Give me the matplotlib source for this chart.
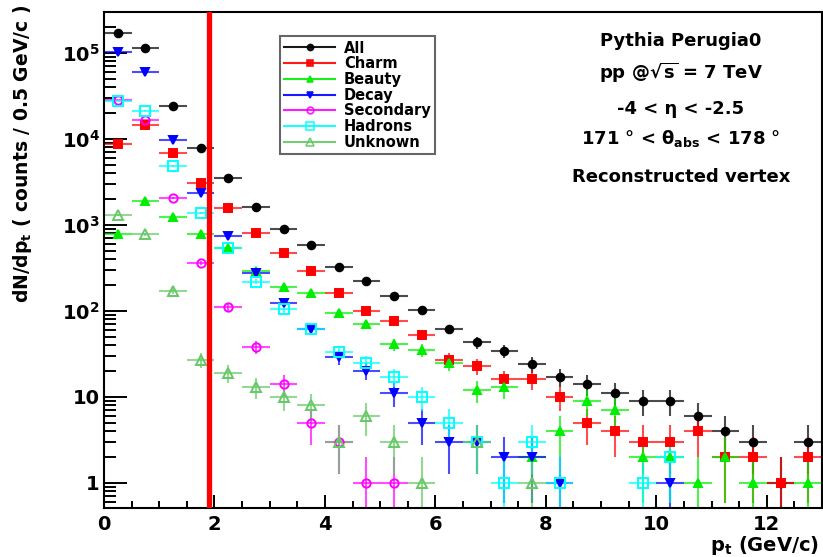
import numpy as np
import matplotlib
matplotlib.use("Agg")
import matplotlib.pyplot as plt
from matplotlib.lines import Line2D
from matplotlib.ticker import LogLocator, MultipleLocator, FuncFormatter

plt.rcParams['font.family'] = ['DejaVu Sans']
plt.rcParams['font.weight'] = 'bold'
plt.rcParams['axes.labelweight'] = 'bold'
plt.rcParams['mathtext.fontset'] = 'dejavusans'
plt.rcParams['mathtext.default'] = 'bf'

# bin centres, 0.5 GeV/c bins
pt = np.arange(0.25, 13.0, 0.5)

# counts per bin (0 = empty bin)
all_counts = [1.69e5, 1.13e5, 2.44e4, 7.9e3, 3.55e3, 1.63e3, 906, 585, 325, 223, 148, 103, 61,
              43, 34, 24, 17, 14, 11, 9, 9, 6, 4, 3, 1, 3]
charm = [8.7e3, 1.44e4, 6.8e3, 3.05e3, 1.59e3, 814, 472, 294, 163, 101, 76, 53, 27,
         23, 16, 16, 10, 5, 4, 3, 3, 4, 2, 2, 1, 2]
beauty = [780, 1920, 1250, 786, 536, 292, 192, 161, 94, 70, 41, 35, 25,
          12, 13, 2, 4, 9, 7, 2, 2, 1, 2, 1, 0, 1]
decay = [1.03e5, 5.96e4, 9.6e3, 2.34e3, 751, 274, 123, 61, 29, 20, 11, 5, 3,
         3, 2, 2, 1, 0, 0, 0, 1, 0, 0, 0, 0, 0]
secondary = [2.84e4, 1.66e4, 2.04e3, 365, 110, 38, 14, 5, 3, 1, 1, 0, 0,
             0, 0, 0, 0, 0, 0, 0, 0, 0, 0, 0, 0, 0]
hadrons = [2.77e4, 2.13e4, 4.85e3, 1.39e3, 536, 219, 105, 61, 33, 25, 17, 10, 5,
           3, 1, 3, 1, 0, 0, 1, 2, 0, 0, 0, 0, 0]
unknown = [1320, 780, 171, 27, 19, 13, 10, 8, 3, 6, 3, 1, 0,
           3, 0, 1, 0, 0, 0, 0, 0, 0, 0, 0, 0, 0]

labels = ['All', 'Charm', 'Beauty', 'Decay', 'Secondary', 'Hadrons', 'Unknown']
data = [all_counts, charm, beauty, decay, secondary, hadrons, unknown]
colors = ['black', '#ff0000', '#00ee00', '#0000ff', '#ff00ff', '#00ffff', '#66c866']
markers = ['o', 's', '^', 'v', 'o', 's', '^']
filled = [True, True, True, True, False, False, False]
msizes = [5.5, 5.5, 5.5, 5.5, 6, 6.5, 6.5]

cut = 1.9

fig = plt.figure(figsize=(8.23, 5.57), dpi=100)
ax = fig.add_axes([0.1264, 0.088, 0.8724, 0.8905])

handles = []
for lab, vals, c, m, f, ms in zip(labels, data, colors, markers, filled, msizes):
    v = np.array(vals, dtype=float)
    ok = v > 0
    x = pt[ok]
    y = v[ok]
    err = np.sqrt(y)
    lo = np.minimum(err, y * 0.9999)
    mfc = c if f else 'none'
    eb = ax.errorbar(x, y, xerr=0.25, yerr=[lo, err], fmt=m, color=c, mfc=mfc, mec=c,
                     ms=ms, mew=1.4, elinewidth=1.5, capsize=0, ecolor=c)
    for lc in eb[2]:
        lc.set_alpha(0.7)
    handles.append(Line2D([], [], color=c, marker=m, mfc=mfc, mec=c, ms=ms * 0.8,
                          mew=1.2, lw=1.5, alpha=0.9))

ax.axvline(cut, color='#ff0000', lw=3.8, zorder=10)

ax.set_yscale('log')
ax.set_xlim(0, 13)
ax.set_ylim(0.51, 3.0e5)

ax.xaxis.set_major_locator(MultipleLocator(2))
ax.xaxis.set_minor_locator(MultipleLocator(0.5))
ax.yaxis.set_major_locator(LogLocator(base=10, numticks=10))
ax.yaxis.set_minor_locator(LogLocator(base=10, subs=np.arange(2, 10), numticks=20))


def ylab(v, pos):
    if v == 1:
        return '1'
    if v == 10:
        return '10'
    return r'$10^{%d}$' % round(np.log10(v))


ax.yaxis.set_major_formatter(FuncFormatter(ylab))
ax.yaxis.set_minor_formatter(FuncFormatter(lambda v, p: ''))

ax.tick_params(axis='both', which='both', direction='in', top=False, right=False,
               width=1.4, labelsize=14)
ax.tick_params(axis='x', which='major', length=9.5, pad=5)
ax.tick_params(axis='x', which='minor', length=5)
ax.tick_params(axis='y', which='major', length=16.5, pad=3)
ax.tick_params(axis='y', which='minor', length=8.6)
for s in ax.spines.values():
    s.set_linewidth(1.5)

ax.set_xlabel(r'p$_{t}$ (GeV/c)', fontsize=14, loc='right')
ax.xaxis.set_label_coords(0.996, -0.052)
ax.set_ylabel(r'dN/dp$_{t}$ ( counts / 0.5 GeV/c )', fontsize=13.5, loc='top')
ax.yaxis.set_label_coords(-0.098, 1.014)

leg = fig.legend(handles, labels, loc='upper left', bbox_to_anchor=(0.340, 0.935),
                 fontsize=10.5, frameon=True, fancybox=False, handlelength=3.5,
                 handletextpad=0.6, labelspacing=0.05, borderpad=0.3,
                 borderaxespad=0)
leg.get_frame().set_edgecolor('0.25')
leg.get_frame().set_linewidth(1.5)

tx = 0.8275
fig.text(tx, 0.927, 'Pythia Perugia0', ha='center', va='center', fontsize=13)
fig.text(tx, 0.869, r'pp @$\sqrt{s}$ = 7 TeV', ha='center', va='center', fontsize=13)
fig.text(tx, 0.805, '-4 < η < -2.5', ha='center', va='center', fontsize=13)
fig.text(tx, 0.752, r'171 ° < θ$_{abs}$ < 178 °', ha='center', va='center', fontsize=13)
fig.text(tx, 0.682, 'Reconstructed vertex', ha='center', va='center', fontsize=13)

fig.savefig('out.png', dpi=100)
